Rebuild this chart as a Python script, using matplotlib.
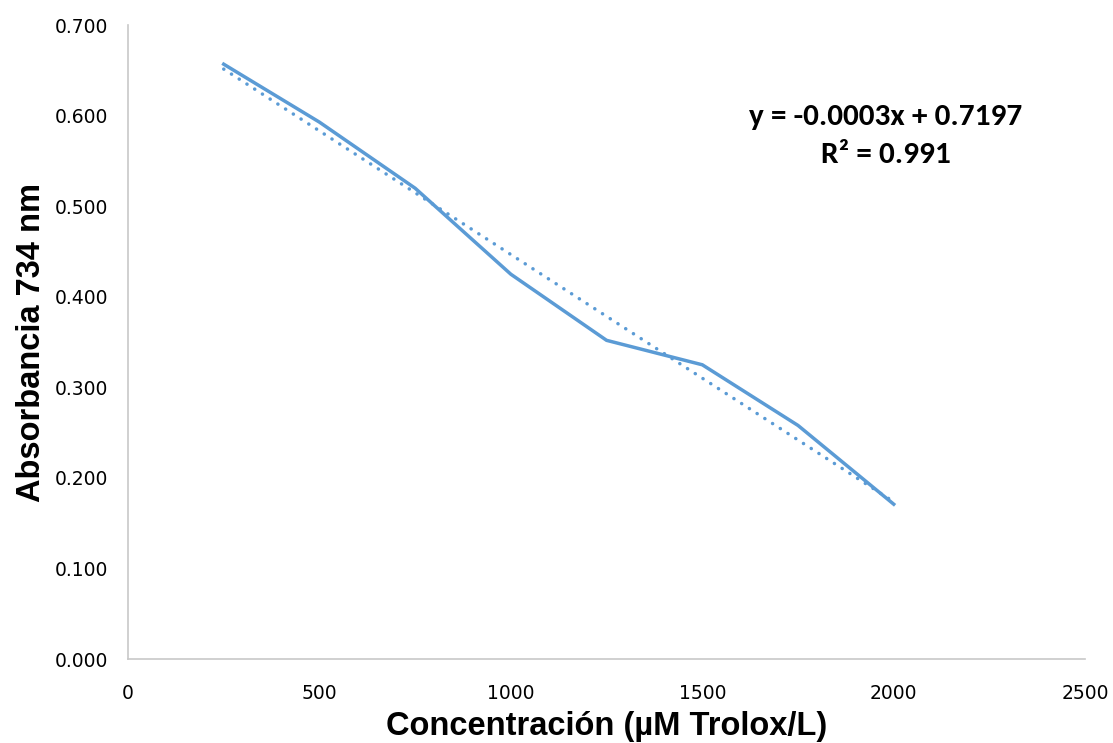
import numpy as np
import matplotlib.pyplot as plt

plt.rcParams['font.family'] = ['Liberation Sans', 'DejaVu Sans']

# Trolox calibration curve
conc = [250, 500, 750, 1000, 1250, 1500, 1750, 2000]
absorb = [0.657, 0.593, 0.520, 0.425, 0.352, 0.325, 0.258, 0.171]
x_ticks = [0, 500, 1000, 1500, 2000, 2500]
y_ticks = [0.0, 0.1, 0.2, 0.3, 0.4, 0.5, 0.6, 0.7]

blue = '#5B9BD5'

fig = plt.figure(figsize=(11.13, 7.43), dpi=100, facecolor='w')
ax = fig.add_axes([0.115, 0.113, 0.86, 0.853])

ax.plot(conc, absorb, color=blue, lw=2.5, solid_joinstyle='miter')

# linear trendline
slope, intercept = np.polyfit(conc, absorb, 1)
xs = np.array([conc[0], conc[-1]])
ax.plot(xs, slope * xs + intercept, color=blue, lw=2.5,
        linestyle=(0, (0.05, 2.6)), dash_capstyle='round')

ax.set_xlim(0, 2500)
ax.set_ylim(0, 0.7)
ax.set_xticks(x_ticks)
ax.set_yticks(y_ticks)
ax.set_yticklabels(['%.3f' % v for v in y_ticks])
ax.tick_params(length=0, labelsize=13.5)
ax.tick_params(axis='x', pad=18)
ax.tick_params(axis='y', pad=14)
for lab in ax.get_xticklabels() + ax.get_yticklabels():
    lab.set_family(['DejaVu Sans'])

for s in ('top', 'right'):
    ax.spines[s].set_visible(False)
for s in ('left', 'bottom'):
    ax.spines[s].set_color('#C8C8C8')
    ax.spines[s].set_linewidth(1.2)

ax.set_xlabel('Concentración (µM Trolox/L)', fontsize=23.5, fontweight='bold', labelpad=6)
ax.set_ylabel('Absorbancia 734 nm', fontsize=23.5, fontweight='bold', labelpad=6)

ax.text(0.792, 0.825, 'y = -0.0003x + 0.7197\nR² = 0.991', transform=ax.transAxes,
        ha='center', va='center', fontsize=22.5, fontweight='bold',
        family=['Carlito', 'Lato', 'DejaVu Sans'], linespacing=1.55)

fig.savefig('out.png', dpi=100)
